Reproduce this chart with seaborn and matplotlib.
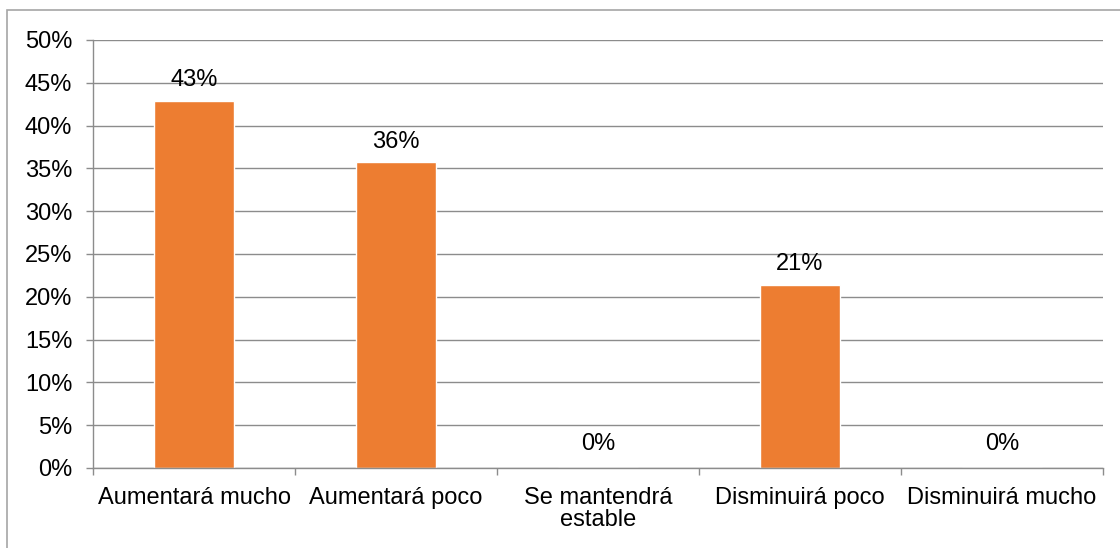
import matplotlib
matplotlib.use("Agg")
import matplotlib.pyplot as plt
import seaborn as sns
import pandas as pd
from matplotlib.patches import Rectangle
from matplotlib.ticker import FixedLocator, PercentFormatter

categories = ["Aumentará mucho", "Aumentará poco", "Se mantendrá\nestable",
              "Disminuirá poco", "Disminuirá mucho"]
values = [42.86, 35.71, 0.0, 21.43, 0.0]
value_labels = ["43%", "36%", "0%", "21%", "0%"]
y_ticks = [0, 5, 10, 15, 20, 25, 30, 35, 40, 45, 50]

sns.set_theme(style="white")
plt.rcParams['font.family'] = ['Liberation Sans', 'DejaVu Sans']

df = pd.DataFrame({"cat": categories, "val": values})

fig = plt.figure(figsize=(11.2, 5.48), dpi=100)
ax = fig.add_axes([93/1120, 1-468/548, (1103-93)/1120, (468-40)/548])

sns.barplot(data=df, x="cat", y="val", order=categories, color="#ED7D31",
            saturation=1, width=0.4, ax=ax)

ax.set_ylim(0, 50)
ax.set_xlim(-0.5, len(categories) - 0.5)
ax.set_yticks(y_ticks)
ax.yaxis.set_major_formatter(PercentFormatter(decimals=0))
ax.set_xlabel("")
ax.set_ylabel("")

grid_c = "#8c8c8c"
ax.yaxis.grid(True, color=grid_c, linewidth=1)
ax.set_axisbelow(True)
for s in ["top", "right"]:
    ax.spines[s].set_visible(False)
for s in ["left", "bottom"]:
    ax.spines[s].set_color(grid_c)
    ax.spines[s].set_linewidth(1)

ax.tick_params(axis="y", which="major", length=5, color=grid_c, width=1,
               labelsize=17, pad=10, left=True, labelcolor="black")
ax.tick_params(axis="x", which="major", length=0, labelsize=17, pad=14,
               labelcolor="black")
ax.xaxis.set_minor_locator(FixedLocator([i - 0.5 for i in range(len(categories) + 1)]))
ax.tick_params(axis="x", which="minor", length=5, color=grid_c, width=1, bottom=True)
for lbl in ax.get_xticklabels():
    lbl.set_linespacing(1.0)

for i, (v, t) in enumerate(zip(values, value_labels)):
    off = 7 if v > 0 else 9
    ax.annotate(t, xy=(i, v), xytext=(0, off), textcoords="offset points",
                ha="center", va="bottom", fontsize=17, color="black")

fig.patches.append(Rectangle((7/1120, -0.1), 1.2, 1 - 10/548 + 0.1,
                             transform=fig.transFigure, fill=False,
                             edgecolor="#a6a6a6", linewidth=1.2, figure=fig))

fig.savefig("out.png", dpi=100, facecolor="white")
